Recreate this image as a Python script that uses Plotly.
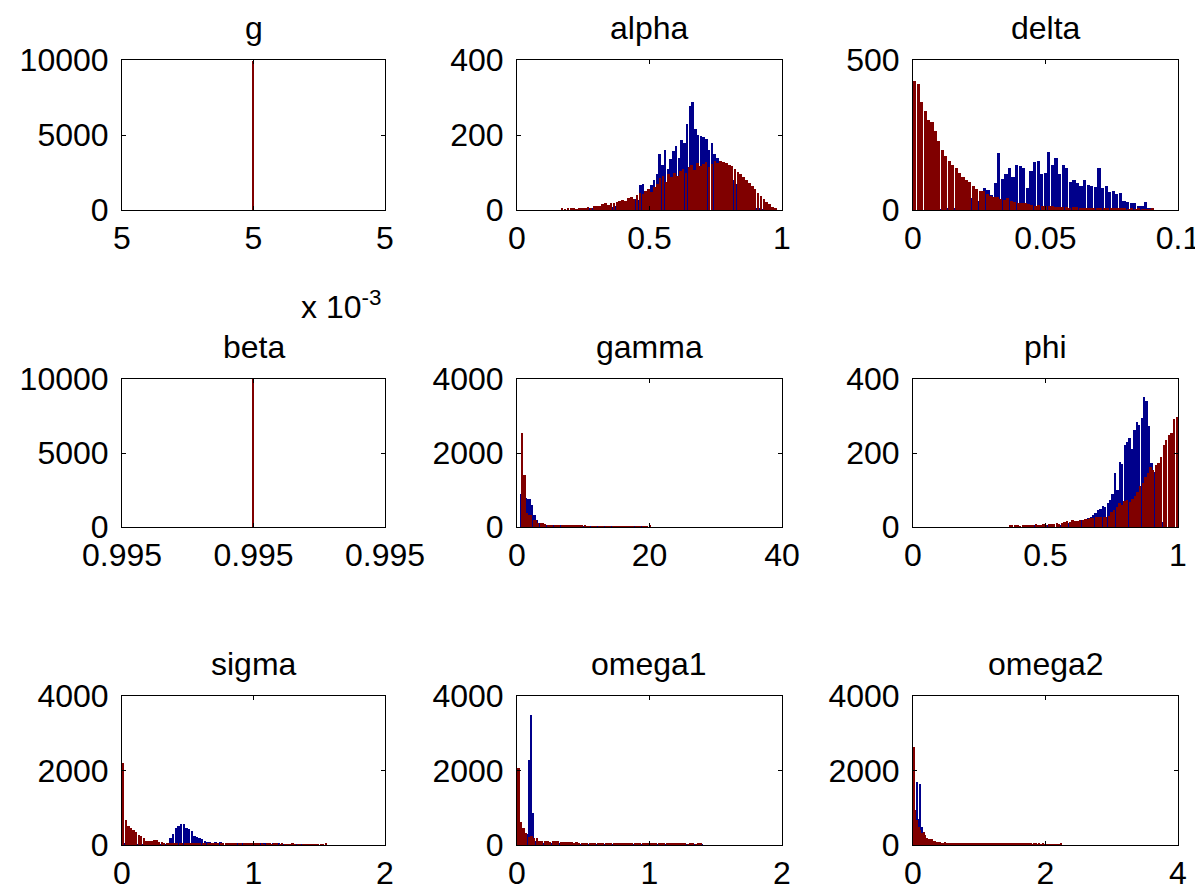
import numpy as np
import plotly.graph_objects as go

BLUE = "#00008B"
RED = "#800000"
FONT = "Liberation Sans, Arial, sans-serif"
FS = 32

# ---------------- data (histogram counts) ----------------
# g : every draw equals 0.005
g_value = 0.005
g_blue_count = 9950
g_red_count = 9950

# beta : every draw equals 0.995
beta_value = 0.995
beta_blue_count = 10000
beta_red_count = 10000

# alpha
alpha_blue_start, alpha_blue_width = 0.20, 0.0104
alpha_blue = [1, 0, 2, 1, 2, 3, 2, 4, 3, 5,
              6, 5, 8, 7, 10, 9, 12, 14, 13, 18,
              20, 22, 25, 30, 28, 66, 70, 40, 35, 68,
              80, 95, 150, 120, 160, 110, 135, 158, 170, 140,
              188, 180, 230, 278, 288, 215, 200, 198, 195, 190,
              160, 178, 150, 140, 130, 110, 95, 120, 100, 80,
              70, 55, 45, 30, 25, 15, 10, 6, 3, 2]
alpha_red_start, alpha_red_width = 0.165, 0.01087
alpha_red = [3, 2, 4, 3, 5, 2, 6, 4, 5, 7,
             6, 10, 12, 11, 15, 18, 14, 20, 19, 22,
             25, 28, 24, 32, 36, 30, 40, 45, 42, 50,
             55, 48, 62, 70, 85, 90, 75, 95, 88, 100,
             92, 105, 110, 98, 115, 120, 108, 125, 118, 122,
             128, 115, 124, 130, 126, 132, 128, 125, 120, 118,
             110, 102, 95, 88, 80, 72, 65, 55, 45, 38,
             30, 22, 15, 8, 4]

# delta
delta_blue_start, delta_blue_width = 0.002, 0.00135
delta_blue = [1, 0, 1, 2, 1, 2, 3, 2, 4, 3,
              5, 8, 10, 20, 40,
              75, 30, 60, 72, 66,
              50, 90, 190, 105, 120,
              140, 110, 150, 148, 140,
              75, 130, 160, 165, 120,
              125, 195, 150, 175, 120,
              150, 140, 95, 100, 90,
              80, 100, 85, 80, 78,
              140, 72, 80, 60, 65,
              55, 58, 30, 28, 25,
              22, 15, 12, 28, 8]
delta_red_start, delta_red_width = 0.0, 0.0013
delta_red = [430, 420, 360, 330, 300, 295, 262, 230, 200, 180,
             165, 150, 140, 125, 110, 100, 92, 80, 70, 62,
             63, 55, 48, 42, 45, 38, 35, 40, 30, 28,
             25, 22, 24, 20, 18, 15, 17, 14, 13, 15,
             12, 10, 11, 9, 10, 8, 9, 10, 7, 8,
             7, 6, 8, 5, 6, 7, 5, 6, 4, 5,
             4, 5, 3, 4, 3, 4, 2, 3, 2, 5]

# gamma
gamma_blue_start, gamma_blue_width = 0.5, 0.33
gamma_blue = [880, 900, 780, 770, 760, 600, 320, 200, 120, 80,
              60, 55, 50, 45, 40, 42, 38, 35, 30, 32,
              28, 25, 22, 24, 20, 18, 20, 16, 15, 14,
              12, 14, 10, 12, 9, 10, 8, 9, 7, 8,
              6, 7, 5, 6, 4, 5, 3, 4, 3, 2,
              2, 3, 1, 2, 1, 2]
gamma_red_start, gamma_red_width = 0.6, 0.35
gamma_red = [2530, 1400, 380, 330, 320, 190, 180, 100, 95, 105,
             90, 60, 55, 50, 52, 48, 55, 45, 50, 42,
             40, 38, 45, 35, 30, 33, 28, 30, 25, 27,
             25, 22, 20, 24, 18, 20, 22, 15, 18, 20,
             15, 17, 12, 14, 16, 10, 12, 15, 10, 12,
             8, 10, 6, 8, 5, 30]

# phi
phi_blue_start, phi_blue_width = 0.40, 0.00917
phi_blue = [1, 0, 1, 2, 1, 2, 3, 2, 3, 4,
            3, 5, 4, 6, 5, 7, 8, 6, 9, 10,
            12, 11, 14, 16, 15, 18, 20, 22, 25, 28,
            32, 38, 45, 50, 58, 55, 65, 72, 90, 145,
            100, 175, 170, 222, 230, 240, 210, 263, 285, 276,
            294, 351, 340, 272, 172, 150, 110, 60, 25, 14]
phi_red_start, phi_red_width = 0.36, 0.00985
phi_red = [5, 3, 4, 6, 2, 5, 4, 3, 6, 5,
           7, 5, 6, 8, 6, 7, 9, 8, 10, 9,
           12, 14, 15, 13, 18, 16, 17, 20, 19, 22,
           22, 24, 25, 26, 27, 26, 28, 28, 30, 40,
           46, 55, 64, 60, 70, 72, 68, 75, 85, 95,
           110, 120, 136, 145, 163, 155, 168, 172, 190, 222,
           235, 250, 254, 292, 296]

# sigma
sigma_blue_start, sigma_blue_width = 0.0, 0.02
sigma_blue = [30, 25, 20, 22, 18, 20, 15, 18, 12, 15,
              12, 10, 14, 11, 13, 15, 20, 60, 190, 300,
              455, 500, 570, 560, 455, 420, 366, 250, 220, 190,
              150, 110, 80, 70, 60, 75, 65, 70, 55, 60,
              50, 55, 45, 50, 40, 48, 42, 38, 45, 35,
              38, 32, 35, 30, 28, 32, 25, 30, 22, 28,
              20, 25, 18, 22, 15, 20, 12, 18, 10, 15,
              8, 12, 6, 10, 5]
sigma_red_start, sigma_red_width = 0.0, 0.0195
sigma_red = [2200, 680, 500, 455, 410, 350, 280, 230, 190, 116,
             116, 110, 143, 140, 80, 70, 60, 65, 55, 60,
             58, 52, 55, 50, 48, 55, 50, 45, 52, 48,
             45, 50, 42, 48, 40, 45, 38, 42, 40, 36,
             40, 35, 38, 42, 33, 38, 35, 30, 36, 32,
             30, 35, 28, 32, 30, 26, 30, 28, 25, 30,
             28, 25, 30, 22, 26, 24, 28, 20, 25, 22,
             24, 20, 22, 25, 18, 22, 20, 24, 18, 30]

# omega1
omega1_blue_start, omega1_blue_width = 0.0, 0.0145
omega1_blue = [40, 30, 35, 25, 30, 300, 2290, 3490, 860, 110,
               60, 45, 40, 35, 38, 30, 32, 28, 30, 26,
               28, 25, 27, 24, 26, 22, 25, 23, 20, 24,
               22, 20, 23, 19, 21, 20, 18, 22, 19, 17,
               20, 18, 16, 19, 17, 15, 18, 16, 14, 17,
               15, 16, 14, 13, 15, 12, 14, 13, 12, 14,
               12, 11, 13, 10, 12, 11, 10, 12, 9, 11,
               10, 9, 11, 8, 10, 9, 8, 10, 7, 9,
               8, 7, 9, 6, 8, 7, 6, 8, 5, 7,
               6, 5, 7, 4, 6, 5, 4]
omega1_red_start, omega1_red_width = 0.0, 0.02
omega1_red = [2070, 620, 450, 310, 220, 250, 178, 175, 107, 110,
              100, 107, 90, 100, 110, 95, 90, 80, 85, 70,
              72, 65, 68, 60, 62, 58, 64, 55, 60, 52,
              55, 50, 58, 48, 52, 45, 50, 55, 46, 48,
              44, 50, 42, 46, 40, 45, 38, 42, 44, 36,
              40, 35, 38, 42, 33, 36, 30, 38, 34, 30,
              32, 28, 35, 30, 26, 32, 28, 25, 30, 35]

# omega2
omega2_blue_start, omega2_blue_width = 0.0, 0.025
omega2_blue = [200, 890, 1690, 700, 1630, 490, 355, 150, 100, 80,
               70, 60, 55, 50, 45, 48, 42, 40, 38, 35,
               36, 32, 34, 30, 28, 32, 26, 28, 25, 27,
               24, 26, 22, 25, 20, 23, 21, 19, 22, 18,
               20, 17, 19, 16, 18, 15, 17, 14, 16, 13,
               15, 12, 14, 11, 13, 10, 12, 11, 9, 12,
               10, 9, 11, 8, 10, 7, 9, 8, 6, 9,
               7, 6, 8, 5, 7, 6, 5, 7, 4, 6]
omega2_red_start, omega2_red_width = 0.0, 0.025
omega2_red = [2640, 930, 670, 490, 400, 310, 355, 267, 178, 160,
              150, 150, 120, 95, 80, 75, 70, 65, 62, 68,
              60, 62, 58, 64, 55, 60, 52, 58, 50, 55,
              52, 48, 55, 46, 50, 44, 52, 45, 48, 42,
              46, 40, 44, 48, 38, 45, 42, 40, 36, 44,
              40, 38, 42, 35, 40, 37, 34, 40, 36, 32,
              38, 34, 30, 36, 33, 30, 35, 28, 32, 30,
              28, 32, 26, 30, 27, 25, 29, 24, 28, 25,
              24, 26, 22, 25, 21, 24, 20, 22, 19, 30]

# axis ticks
titles = ["g", "alpha", "delta", "beta", "gamma", "phi", "sigma", "omega1", "omega2"]
g_xrange = [g_value - 1e-6, g_value + 1e-6]
g_xticks = [g_value - 1e-6, g_value, g_value + 1e-6]
g_xticktext = ["5", "5", "5"]
beta_xrange = [beta_value - 1e-6, beta_value + 1e-6]
beta_xticks = [beta_value - 1e-6, beta_value, beta_value + 1e-6]
beta_xticktext = ["0.995", "0.995", "0.995"]

# ---------------- layout geometry ----------------
# The page body has an 8px margin, so the figure is drawn 8px in from the
# window corner; pixel positions below are window pixels.
OFF = 8
W, H = 1203 - OFF, 891 - OFF
col_px = [(122, 385), (517, 782), (913, 1178)]
row_px = [(60, 210), (379, 527), (696, 845)]


def centers(start, width, counts):
    return start + width * (np.arange(len(counts)) + 0.5)


def hist_pair(start_b, width_b, blue, start_r, width_r, red):
    return [
        dict(x=centers(start_b, width_b, blue), y=blue, w=width_b * 0.9, c=BLUE),
        dict(x=centers(start_r, width_r, red), y=red, w=width_r * 0.9, c=RED),
    ]


panels = [
    dict(series=[dict(x=[g_value], y=[g_blue_count], w=1.2e-8, c=BLUE),
                 dict(x=[g_value], y=[g_red_count], w=1.2e-8, c=RED)],
         xr=g_xrange, xt=g_xticks, xtt=g_xticktext,
         yr=[0, 10000], yt=[0, 5000, 10000]),
    dict(series=hist_pair(alpha_blue_start, alpha_blue_width, alpha_blue,
                          alpha_red_start, alpha_red_width, alpha_red),
         xr=[0, 1], xt=[0, 0.5, 1], xtt=["0", "0.5", "1"],
         yr=[0, 400], yt=[0, 200, 400]),
    dict(series=hist_pair(delta_blue_start, delta_blue_width, delta_blue,
                          delta_red_start, delta_red_width, delta_red),
         xr=[0, 0.1], xt=[0, 0.05, 0.1], xtt=["0", "0.05", "0.1"],
         yr=[0, 500], yt=[0, 500]),
    dict(series=[dict(x=[beta_value], y=[beta_blue_count], w=1.2e-8, c=BLUE),
                 dict(x=[beta_value], y=[beta_red_count], w=1.2e-8, c=RED)],
         xr=beta_xrange, xt=beta_xticks, xtt=beta_xticktext,
         yr=[0, 10000], yt=[0, 5000, 10000]),
    dict(series=hist_pair(gamma_blue_start, gamma_blue_width, gamma_blue,
                          gamma_red_start, gamma_red_width, gamma_red),
         xr=[0, 40], xt=[0, 20, 40], xtt=["0", "20", "40"],
         yr=[0, 4000], yt=[0, 2000, 4000]),
    dict(series=hist_pair(phi_blue_start, phi_blue_width, phi_blue,
                          phi_red_start, phi_red_width, phi_red),
         xr=[0, 1], xt=[0, 0.5, 1], xtt=["0", "0.5", "1"],
         yr=[0, 400], yt=[0, 200, 400]),
    dict(series=hist_pair(sigma_blue_start, sigma_blue_width, sigma_blue,
                          sigma_red_start, sigma_red_width, sigma_red),
         xr=[0, 2], xt=[0, 1, 2], xtt=["0", "1", "2"],
         yr=[0, 4000], yt=[0, 2000, 4000]),
    dict(series=hist_pair(omega1_blue_start, omega1_blue_width, omega1_blue,
                          omega1_red_start, omega1_red_width, omega1_red),
         xr=[0, 2], xt=[0, 1, 2], xtt=["0", "1", "2"],
         yr=[0, 4000], yt=[0, 2000, 4000]),
    dict(series=hist_pair(omega2_blue_start, omega2_blue_width, omega2_blue,
                          omega2_red_start, omega2_red_width, omega2_red),
         xr=[0, 4], xt=[0, 2, 4], xtt=["0", "2", "4"],
         yr=[0, 4000], yt=[0, 2000, 4000]),
]

fig = go.Figure()
layout = dict(
    width=W, height=H, margin=dict(l=0, r=0, t=0, b=0, autoexpand=False),
    paper_bgcolor="white", plot_bgcolor="white",
    showlegend=False, barmode="overlay", bargap=0,
    font=dict(family=FONT, size=FS, color="black"),
)
annotations = []

axis_common = dict(
    showline=True, linecolor="black", linewidth=1, mirror="ticks",
    ticks="inside", ticklen=4, tickcolor="black", tickwidth=1,
    showgrid=False, zeroline=False, fixedrange=True, automargin=False,
    tickfont=dict(family=FONT, size=FS, color="black"),
)

for i, p in enumerate(panels):
    r, c = divmod(i, 3)
    k = i + 1
    xs = "" if k == 1 else str(k)
    x0, x1 = col_px[c]
    y0, y1 = row_px[r]
    xdom = [(x0 - OFF) / W, (x1 - OFF) / W]
    ydom = [1 - (y1 - OFF) / H, 1 - (y0 - OFF) / H]
    for s in p["series"]:
        fig.add_trace(go.Bar(
            x=s["x"], y=s["y"], width=s["w"],
            marker=dict(color=s["c"], line=dict(width=0)),
            xaxis="x" + xs, yaxis="y" + xs, hoverinfo="x+y",
        ))
    layout["xaxis" + xs] = dict(
        axis_common, domain=xdom, anchor="y" + xs, range=p["xr"],
        tickmode="array", tickvals=p["xt"], ticktext=p["xtt"],
        ticklabelstandoff=0,
    )
    layout["yaxis" + xs] = dict(
        axis_common, domain=ydom, anchor="x" + xs, range=p["yr"],
        tickmode="array", tickvals=p["yt"], ticktext=[str(v) for v in p["yt"]],
        ticklabelstandoff=6,
    )
    annotations.append(dict(
        text=titles[i], xref="paper", yref="paper",
        x=(xdom[0] + xdom[1]) / 2, y=ydom[1],
        xanchor="center", yanchor="bottom", yshift=12, showarrow=False,
        font=dict(family=FONT, size=FS, color="black"),
    ))

# exponent label of the g axis
annotations.append(dict(
    text="x 10<sup>-3</sup>", xref="paper", yref="paper",
    x=(383 - OFF) / W, y=1 - (327 - OFF) / H, xanchor="right", yanchor="bottom",
    showarrow=False, font=dict(family=FONT, size=FS, color="black"),
))

layout["annotations"] = annotations
fig.update_layout(**layout)
fig.write_html("out.html")
